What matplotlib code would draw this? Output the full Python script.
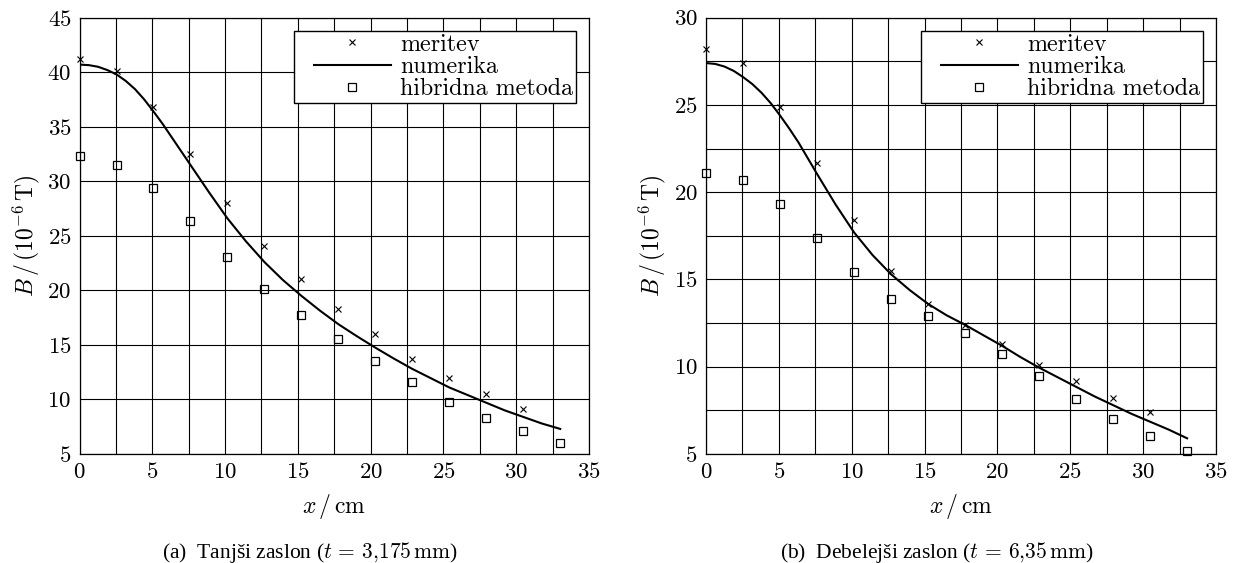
import numpy as np
import matplotlib
matplotlib.use("Agg")
import matplotlib.pyplot as plt
from matplotlib.ticker import MultipleLocator
from matplotlib.lines import Line2D
from matplotlib.legend_handler import HandlerLine2D

plt.rcParams['font.family'] = 'serif'
plt.rcParams['font.serif'] = ['cmr10']
plt.rcParams['mathtext.fontset'] = 'cm'
plt.rcParams['axes.formatter.use_mathtext'] = True

# measurement positions (cm)
x_meas = [0, 2.54, 5.08, 7.62, 10.16, 12.7, 15.24, 17.78, 20.32, 22.86, 25.4, 27.94, 30.48]
x_hyb = [0, 2.54, 5.08, 7.62, 10.16, 12.7, 15.24, 17.78, 20.32, 22.86, 25.4, 27.94, 30.48, 33.02]
x_num = [0, 0.635, 1.27, 1.905, 2.54, 3.175, 3.81, 4.445, 5.08, 5.715, 6.35, 6.985, 7.62,
         8.89, 10.16, 11.43, 12.7, 13.97, 15.24, 16.51, 17.78, 19.05, 20.32, 21.59, 22.86,
         24.13, 25.4, 26.67, 27.94, 29.21, 30.48, 31.75, 33.02]

# (a) thin shield
meas_a = [41.2, 40.1, 36.8, 32.5, 28.0, 24.1, 21.0, 18.3, 16.0, 13.7, 12.0, 10.5, 9.1]
hyb_a = [32.3, 31.5, 29.4, 26.4, 23.1, 20.1, 17.7, 15.5, 13.5, 11.6, 9.8, 8.3, 7.1, 6.0]
num_a = [40.7, 40.65, 40.5, 40.2, 39.8, 39.2, 38.45, 37.5, 36.4, 35.25, 34.0, 32.75, 31.5,
         29.0, 26.6, 24.5, 22.6, 20.95, 19.5, 18.15, 16.9, 15.8, 14.75, 13.75, 12.8,
         11.95, 11.1, 10.4, 9.7, 9.0, 8.4, 7.8, 7.3]

# (b) thick shield
meas_b = [28.2, 27.4, 24.9, 21.7, 18.4, 15.5, 13.6, 12.4, 11.3, 10.1, 9.2, 8.2, 7.4]
hyb_b = [21.1, 20.7, 19.3, 17.4, 15.4, 13.9, 12.9, 11.95, 10.75, 9.45, 8.15, 7.0, 6.05, 5.2]
num_b = [27.4, 27.35, 27.2, 26.95, 26.6, 26.2, 25.7, 25.1, 24.4, 23.65, 22.85, 21.95, 21.05,
         19.3, 17.7, 16.4, 15.3, 14.4, 13.6, 12.95, 12.4, 11.8, 11.2, 10.55, 9.95,
         9.4, 8.85, 8.3, 7.8, 7.3, 6.85, 6.4, 5.9]

captions = [r'(a)  Tanjši zaslon ($t\, =\, 3{,}175\,\mathrm{mm}$)',
            r'(b)  Debelejši zaslon ($t\, =\, 6{,}35\,\mathrm{mm}$)']

fig = plt.figure(figsize=(12.39, 5.63), dpi=100)
ax1 = fig.add_axes([0.0642, 0.1936, 0.4112, 0.775])
ax2 = fig.add_axes([0.5698, 0.1936, 0.4116, 0.775])

panels = [(ax1, meas_a, hyb_a, num_a, 45, 5), (ax2, meas_b, hyb_b, num_b, 30, 2.5)]
for ax, meas, hyb, num, ytop, yminor in panels:
    ax.plot(x_meas, meas, 'x', color='black', ms=4.5, mew=0.8, label='meritev', clip_on=False, zorder=3)
    ax.plot(x_num, num, '-', color='black', lw=1.5, label='numerika', zorder=3)
    ax.plot(x_hyb, hyb, 's', mfc='none', mec='black', ms=5.5, mew=0.9,
            label='hibridna metoda', clip_on=False, zorder=3)
    ax.set_xlim(0, 35)
    ax.set_ylim(5, ytop)
    ax.xaxis.set_major_locator(MultipleLocator(5))
    ax.xaxis.set_minor_locator(MultipleLocator(2.5))
    ax.yaxis.set_major_locator(MultipleLocator(5))
    ax.yaxis.set_minor_locator(MultipleLocator(yminor))
    ax.grid(True, which='both', color='black', lw=0.8)
    ax.tick_params(which='both', length=0, labelsize=16.5, pad=6)
    for s in ax.spines.values():
        s.set_linewidth(0.9)
    ax.set_xlabel(r'$x\,/\,\mathrm{cm}$', fontsize=17, labelpad=7)
    ax.set_ylabel(r'$B\,/\,(10^{-6}\,\mathrm{T})$', fontsize=17, labelpad=4)
    leg = ax.legend(loc='upper right', fontsize=17.3, fancybox=False, framealpha=1,
                    edgecolor='black', handlelength=3.9, labelspacing=0.0,
                    borderpad=0.12, handletextpad=0.38, borderaxespad=0.55,
                    handler_map={Line2D: HandlerLine2D(xpad=0.7)})
    leg.get_frame().set_linewidth(1.0)

fig.text(0.250, 0.018, captions[0], ha='center', va='center', fontsize=15.5,
         family='Liberation Serif')
fig.text(0.756, 0.018, captions[1], ha='center', va='center', fontsize=15.5,
         family='Liberation Serif')

fig.savefig('out.png', dpi=100)
